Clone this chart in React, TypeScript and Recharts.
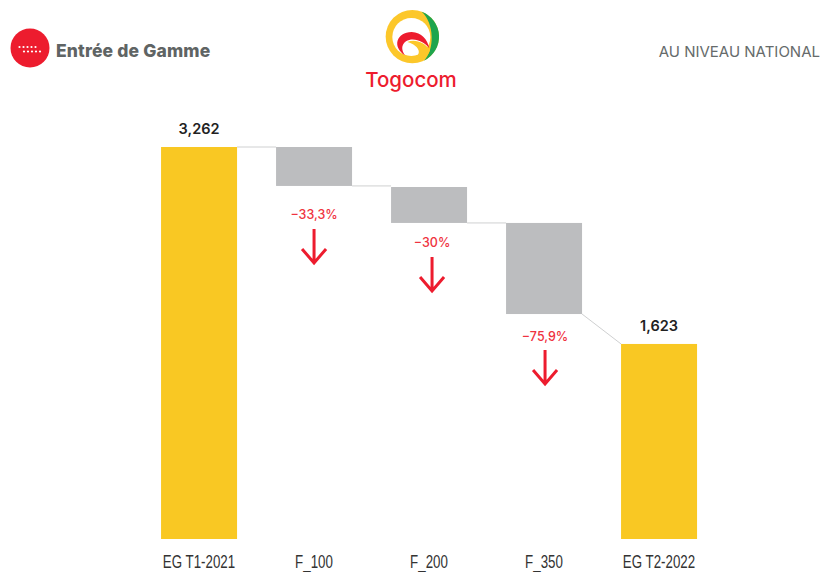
import { BarChart, Bar, XAxis, YAxis, LabelList } from 'recharts'

const categories = ['EG T1-2021', 'F_100', 'F_200', 'F_350', 'EG T2-2022']
const totals = [3262, null, null, null, 1623]
const bases = [null, 2938, 2630, 1872, null]
const deltas = [null, 324, 299, 758, null]
const changes = [null, '−33,3%', '−30%', '−75,9%', null]
// level each connector leaves from / arrives at
const connectorFrom = [3262, 2938, 2630, 1872, null]
const connectorTo = [3262, 2938, 2630, 1623, null]

const RED = '#ed1c2e'
const GAP_RATIO = 39 / 76
// nudges for the red annotations under each grey bar
const noteDx = [0, 0, 3, 1, 0]
const noteDy = [0, 29, 20, 22, 0]

const data = categories.map((category, i) => ({
  category,
  total: totals[i],
  base: bases[i],
  delta: deltas[i],
  change: changes[i],
  from: connectorFrom[i],
  to: connectorTo[i],
  index: i,
}))

function StepBar(props: any) {
  const { x, y, width, height, payload, fill } = props
  if (!height) return null
  const value = payload.total ?? payload.delta
  const top = payload.total ?? payload.base + payload.delta
  const k = height / value
  const right = x + width
  const cx = x + width / 2
  const bottom = y + height
  const i = payload.index
  return (
    <g>
      <rect x={x} y={y} width={width} height={height} fill={fill} />
      {payload.from != null && (
        <line
          x1={right}
          y1={y + (top - payload.from) * k}
          x2={right + width * GAP_RATIO}
          y2={y + (top - payload.to) * k}
          stroke="#cfd0d1"
          strokeWidth={1}
        />
      )}
      {payload.change && (
        <g transform={`translate(${cx + noteDx[i]},${bottom + noteDy[i]})`}>
          <text textAnchor="middle" dy="0.36em" fontFamily="Inter" fontSize={12.5} fontWeight={500} fill="#ef3340">
            {payload.change}
          </text>
          <path
            d="M0 14V48M-12 34L0 48L12 34"
            fill="none"
            stroke={RED}
            strokeWidth={3}
          />
        </g>
      )}
    </g>
  )
}

// the tick font is a condensed grotesque, squeeze a regular one to match
function NarrowTick({ x, y, payload }: any) {
  return (
    <text
      transform={`translate(${x},${y + 21}) scale(0.72,1)`}
      textAnchor="middle"
      fontFamily="Liberation Sans"
      fontSize={18.5}
      fill="#333"
    >
      {payload.value}
    </text>
  )
}

function Logo() {
  return (
    <div style={{ position: 'absolute', left: 350, top: 0, width: 130, height: 100 }}>
      <svg width={130} height={70} viewBox="0 0 390 210" style={{ display: 'block' }}>
        <circle cx={187} cy={110} r={80} fill="#fcc72a" />
        <path d="M215 35A80 80 0 0 1 222 182C254 150 254 70 215 35Z" fill="#1ea54d" />
        <circle cx={184} cy={111} r={57} fill="#fff" />
        <path d="M165 166C125 140 140 97 185 96C215 97 232 118 238 145C222 124 190 110 168 124C152 136 155 152 165 166Z" fill={RED} />
        <path d="M172 126C196 116 224 128 240 150C234 174 208 178 192 170C214 168 214 138 172 126Z" fill="#fcc72a" />
      </svg>
      <div style={{ position: 'absolute', left: -4, right: 4, top: 66, textAlign: 'center', fontFamily: 'Inter', fontSize: 20.5, fontWeight: 500, color: RED, lineHeight: '28px' }}>
        Togocom
      </div>
    </div>
  )
}

function Badge() {
  const dots = [0, 1, 2, 3, 4]
  return (
    <svg width={40} height={40} style={{ position: 'absolute', left: 10, top: 28 }}>
      <circle cx={20} cy={20} r={19.5} fill={RED} />
      {dots.map((d) => <circle key={d} cx={9.5 + d * 4} cy={19} r={1.1} fill="#fff" />)}
      {dots.map((d) => <circle key={d} cx={14 + d * 4} cy={23.5} r={1.1} fill="#fff" />)}
    </svg>
  )
}

export default function App() {
  return (
    <div style={{ position: 'absolute', left: 0, top: 0, width: 820, height: 572, background: '#fff', overflow: 'hidden' }}>
      <Badge />
      <div style={{ position: 'absolute', left: 56, top: 40, fontFamily: 'Inter', fontSize: 17.5, fontWeight: 800, letterSpacing: 0.15, color: '#5f6464', lineHeight: '22px', whiteSpace: 'nowrap' }}>
        Entrée de Gamme
      </div>
      <Logo />
      <div style={{ position: 'absolute', right: 0, top: 42, fontFamily: 'Inter', fontSize: 15, fontWeight: 400, color: '#666b6b', lineHeight: '20px', whiteSpace: 'nowrap' }}>
        AU NIVEAU NATIONAL
      </div>
      <BarChart
        width={820}
        height={572}
        data={data}
        barCategoryGap="17%"
        margin={{ top: 147, right: 103.5, bottom: 0, left: 141.5 }}
        style={{ position: 'absolute', left: 0, top: 0 }}
      >
        <XAxis
          dataKey="category"
          axisLine={false}
          tickLine={false}
          height={33}
          interval={0}
          tick={NarrowTick}
        />
        <YAxis hide domain={[0, 3262]} />
        <Bar dataKey="base" stackId="a" fill="transparent" isAnimationActive={false} />
        <Bar dataKey="delta" stackId="a" fill="#bcbdbf" shape={StepBar} isAnimationActive={false} />
        <Bar dataKey="total" stackId="a" fill="#f9c823" shape={StepBar} isAnimationActive={false}>
          <LabelList
            dataKey="total"
            position="top"
            offset={13}
            formatter={(v: any) => (v == null ? '' : Number(v).toLocaleString('en-US'))}
            style={{ fontFamily: 'Inter', fontSize: 14.5, fontWeight: 600, fill: '#222' }}
          />
        </Bar>
      </BarChart>
    </div>
  )
}
